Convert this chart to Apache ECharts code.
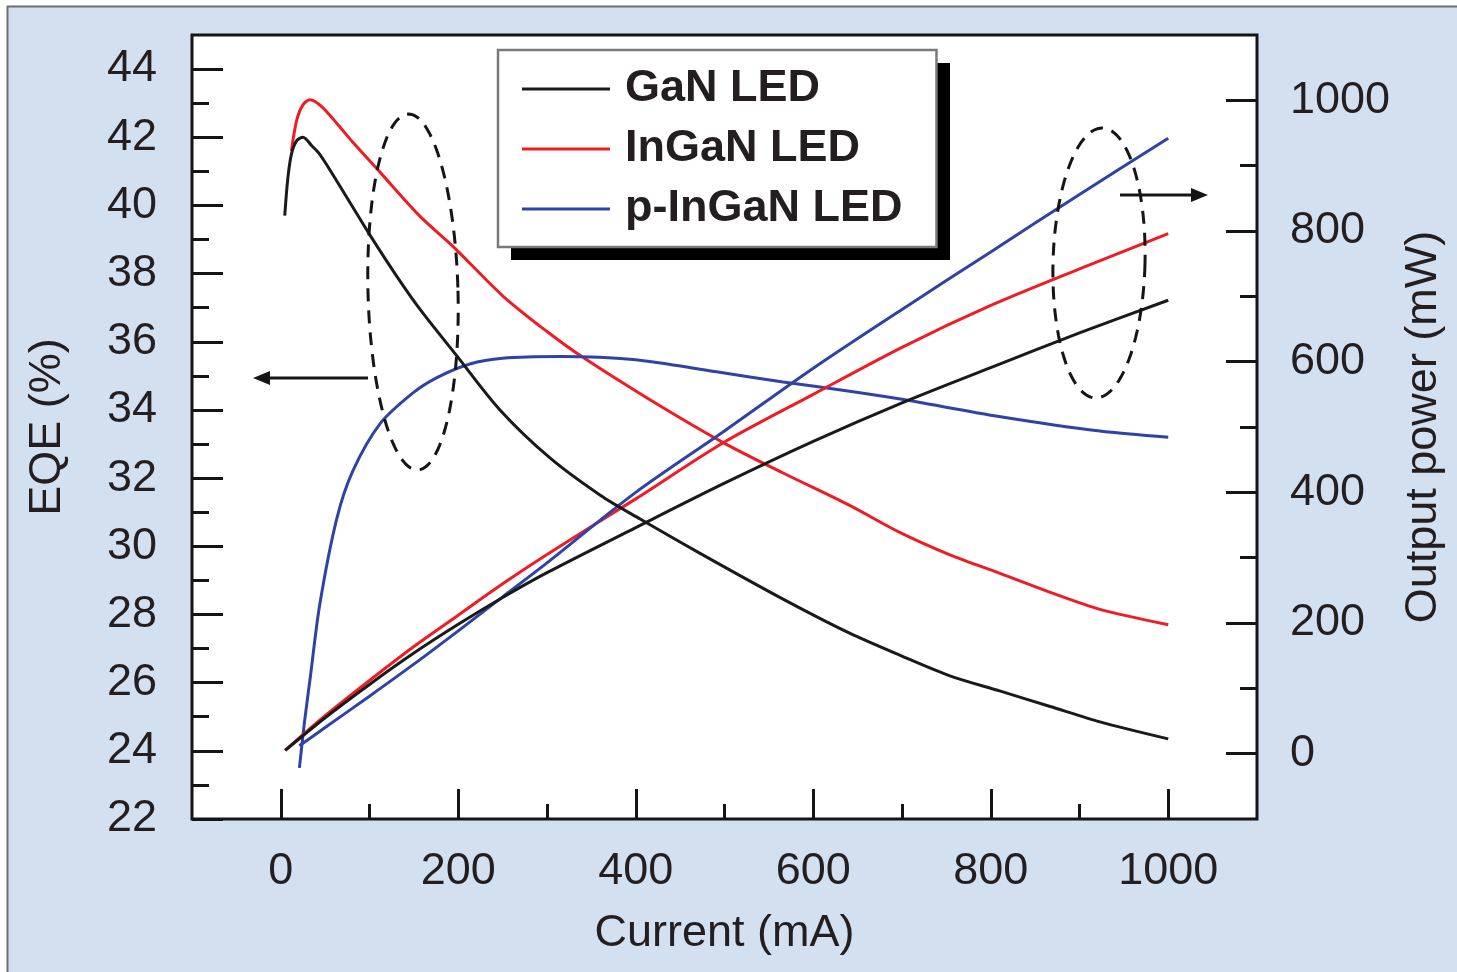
<!DOCTYPE html>
<html><head><meta charset="utf-8">
<script src="https://cdn.jsdelivr.net/npm/echarts@6/dist/echarts.min.js"></script>
<style>html,body{margin:0;padding:0;background:#fff}#c{width:1457px;height:972px}</style>
</head><body><div id="c"></div>
<script>
// ---------- data ----------
const seriesNames = ['GaN LED', 'InGaN LED', 'p-InGaN LED'];
const xTickValues = [0, 200, 400, 600, 800, 1000];
const xMinorTicks = [100, 300, 500, 700, 900];
const eqeTickValues = [22, 24, 26, 28, 30, 32, 34, 36, 38, 40, 42, 44];
const eqeMinorTicks = [23, 25, 27, 29, 31, 33, 35, 37, 39, 41, 43];
const powerTickValues = [0, 200, 400, 600, 800, 1000];
const powerMinorTicks = [100, 300, 500, 700, 900];

// EQE (%) vs current (mA)
const eqeGaN = [[4.5,39.7],[8,40.8],[12,41.5],[18,41.9],[25,42.0],[35,41.75],[44,41.5],[60,40.85],[80,40.0],[100,39.15],[130,37.95],[157,36.95],[198,35.6],[247,34.0],[303,32.6],[360,31.5],[405,30.8],[472,29.8],[566,28.45],[641,27.45],[698,26.8],[754,26.2],[811,25.75],[867,25.3],[923,24.85],[1000,24.35]];
const eqeInGaN = [[12,41.6],[18,42.5],[25,42.95],[33,43.1],[47,42.88],[65,42.35],[81,41.86],[112,40.97],[157,39.68],[194,38.8],[250,37.35],[300,36.3],[340,35.55],[416,34.3],[498,33.05],[566,32.15],[641,31.2],[698,30.4],[754,29.75],[811,29.2],[867,28.65],[923,28.15],[1000,27.7]];
const eqePInGaN = [[21,23.5],[27,24.9],[33,26.1],[44,28.3],[63,30.8],[81,32.2],[112,33.6],[149,34.5],[176,34.95],[213,35.35],[250,35.52],[315,35.57],[397,35.48],[491,35.12],[566,34.82],[641,34.55],[698,34.32],[811,33.8],[923,33.38],[1000,33.2]];

// Output power (mW) vs current (mA)
const powerGaN = [[5,5],[50,55],[100,106],[150,154],[200,198],[250,239],[300,277],[400,346],[500,414],[600,478],[700,537],[800,591],[900,644],[1000,694]];
const powerInGaN = [[5,5],[50,58],[100,112],[150,164],[200,212],[250,260],[300,305],[400,390],[500,477],[600,550],[700,622],[800,686],[900,742],[1000,796]];
const powerPInGaN = [[21,12],[50,40],[100,88],[150,137],[200,188],[250,240],[300,292],[400,400],[500,494],[600,590],[700,680],[800,768],[900,856],[1000,942]];

// ---------- style ----------
const FONT = "'Liberation Sans', Arial, Helvetica, sans-serif";
const TXT = '#231f20';
const INK = '#151515';
const colors = ['#1a1a1a', '#ee1c25', '#2f42a6'];

function ellipsePoints(cx, cy, rx, ry, rotDeg) {
  const pts = [], r = rotDeg * Math.PI / 180;
  for (let i = 0; i < 120; i++) {
    const t = i / 120 * Math.PI * 2;
    const x = rx * Math.cos(t), y = ry * Math.sin(t);
    pts.push([cx + x * Math.cos(r) - y * Math.sin(r), cy + x * Math.sin(r) + y * Math.cos(r)]);
  }
  return pts;
}

const chart = echarts.init(document.getElementById('c'), null, {renderer: 'canvas'});

function lineSeries(name, data, yIdx, ci) {
  return {
    name, type: 'line', data, xAxisIndex: 0, yAxisIndex: yIdx,
    showSymbol: false, symbol: 'none', smooth: 0.3,
    itemStyle: {color: colors[ci]},
    lineStyle: {color: colors[ci], width: 3},
    z: ci === 0 ? 4 : 3
  };
}

const tickLine = {color: INK, width: 3};
const labelStyle = {fontFamily: FONT, fontSize: 45, color: TXT, formatter: v => String(v)};
const noLine = {show: false, onZero: false};

chart.setOption({
  backgroundColor: '#d3e0f0',
  animation: false,
  grid: {left: 192, top: 35, right: 200, bottom: 153, show: true,
         backgroundColor: '#ffffff', borderColor: INK, borderWidth: 3},
  legend: {
    data: seriesNames, orient: 'vertical', left: 498, top: 50, z: 6,
    icon: 'rect', itemWidth: 88, itemHeight: 3, itemGap: 10,
    padding: [14, 34, 13, 24],
    backgroundColor: '#ffffff', borderColor: '#7a7a7a', borderWidth: 2.5, borderRadius: 0,
    selectedMode: false,
    textStyle: {fontFamily: FONT, fontSize: 45, fontWeight: 'bold', color: TXT, lineHeight: 50, padding: [0, 0, 0, 10]}
  },
  xAxis: [
    {type: 'value', min: -100, max: 1100, position: 'bottom',
     name: 'Current (mA)', nameLocation: 'middle', nameGap: 92,
     nameTextStyle: {fontFamily: FONT, fontSize: 45, color: TXT},
     axisLine: noLine, splitLine: {show: false},
     axisTick: {show: true, inside: true, length: 30, lineStyle: tickLine, customValues: xTickValues},
     axisLabel: Object.assign({margin: 30, customValues: xTickValues}, labelStyle)},
    {type: 'value', min: -100, max: 1100, position: 'bottom', gridIndex: 0,
     axisLine: noLine, splitLine: {show: false}, axisLabel: {show: false},
     axisTick: {show: true, inside: true, length: 15, lineStyle: tickLine, customValues: xMinorTicks}}
  ],
  yAxis: [
    {type: 'value', min: 22, max: 45, position: 'left',
     name: 'EQE (%)', nameLocation: 'middle', nameGap: 122,
     nameTextStyle: {fontFamily: FONT, fontSize: 45, color: TXT},
     axisLine: noLine, splitLine: {show: false},
     axisTick: {show: true, inside: true, length: 31, lineStyle: tickLine, customValues: eqeTickValues},
     axisLabel: Object.assign({margin: 35, customValues: eqeTickValues}, labelStyle)},
    {type: 'value', min: 22, max: 45, position: 'left',
     axisLine: noLine, splitLine: {show: false}, axisLabel: {show: false},
     axisTick: {show: true, inside: true, length: 17, lineStyle: tickLine, customValues: eqeMinorTicks}},
    {type: 'value', min: -100, max: 1100, position: 'right',
     name: 'Output power (mW)', nameLocation: 'middle', nameGap: 133,
     nameTextStyle: {fontFamily: FONT, fontSize: 45, color: TXT},
     axisLine: noLine, splitLine: {show: false},
     axisTick: {show: true, inside: true, length: 31, lineStyle: tickLine, customValues: powerTickValues},
     axisLabel: Object.assign({margin: 33, customValues: powerTickValues}, labelStyle)},
    {type: 'value', min: -100, max: 1100, position: 'right',
     axisLine: noLine, splitLine: {show: false}, axisLabel: {show: false},
     axisTick: {show: true, inside: true, length: 17, lineStyle: tickLine, customValues: powerMinorTicks}}
  ],
  series: [
    lineSeries(seriesNames[0], eqeGaN, 0, 0),
    lineSeries(seriesNames[1], eqeInGaN, 0, 1),
    lineSeries(seriesNames[2], eqePInGaN, 0, 2),
    lineSeries(seriesNames[0], powerGaN, 2, 0),
    lineSeries(seriesNames[1], powerInGaN, 2, 1),
    lineSeries(seriesNames[2], powerPInGaN, 2, 2)
  ],
  graphic: [
    // page margins / panel border
    {type: 'rect', z: 200, silent: true, shape: {x: 0, y: 0, width: 1457, height: 6}, style: {fill: '#ffffff'}},
    {type: 'rect', z: 200, silent: true, shape: {x: 0, y: 0, width: 7, height: 972}, style: {fill: '#ffffff'}},
    {type: 'line', z: 201, silent: true, shape: {x1: 7, y1: 6.5, x2: 1457, y2: 6.5}, style: {stroke: '#6d6e70', lineWidth: 2}},
    {type: 'line', z: 201, silent: true, shape: {x1: 7.5, y1: 6, x2: 7.5, y2: 972}, style: {stroke: '#6d6e70', lineWidth: 2}},
    // legend drop shadow
    {type: 'rect', z: 5, silent: true, shape: {x: 511, y: 63, width: 439, height: 197}, style: {fill: '#000'}},
    // dashed ellipses
    {type: 'polygon', z: 100, silent: true, shape: {points: ellipsePoints(413, 292, 45, 178, -1.5)},
     style: {fill: 'none', stroke: INK, lineWidth: 3, lineDash: [13, 9]}},
    {type: 'polygon', z: 100, silent: true, shape: {points: ellipsePoints(1099, 263, 46, 135, 1.5)},
     style: {fill: 'none', stroke: INK, lineWidth: 3, lineDash: [13, 9]}},
    // arrows
    {type: 'line', z: 100, silent: true, shape: {x1: 368, y1: 378, x2: 266, y2: 378}, style: {stroke: INK, lineWidth: 3}},
    {type: 'polygon', z: 100, silent: true, shape: {points: [[253, 378], [270, 371], [270, 385]]}, style: {fill: INK}},
    {type: 'line', z: 100, silent: true, shape: {x1: 1120, y1: 195, x2: 1195, y2: 195}, style: {stroke: INK, lineWidth: 3}},
    {type: 'polygon', z: 100, silent: true, shape: {points: [[1208, 195], [1191, 188], [1191, 202]]}, style: {fill: INK}}
  ]
});
</script>
</body></html>
